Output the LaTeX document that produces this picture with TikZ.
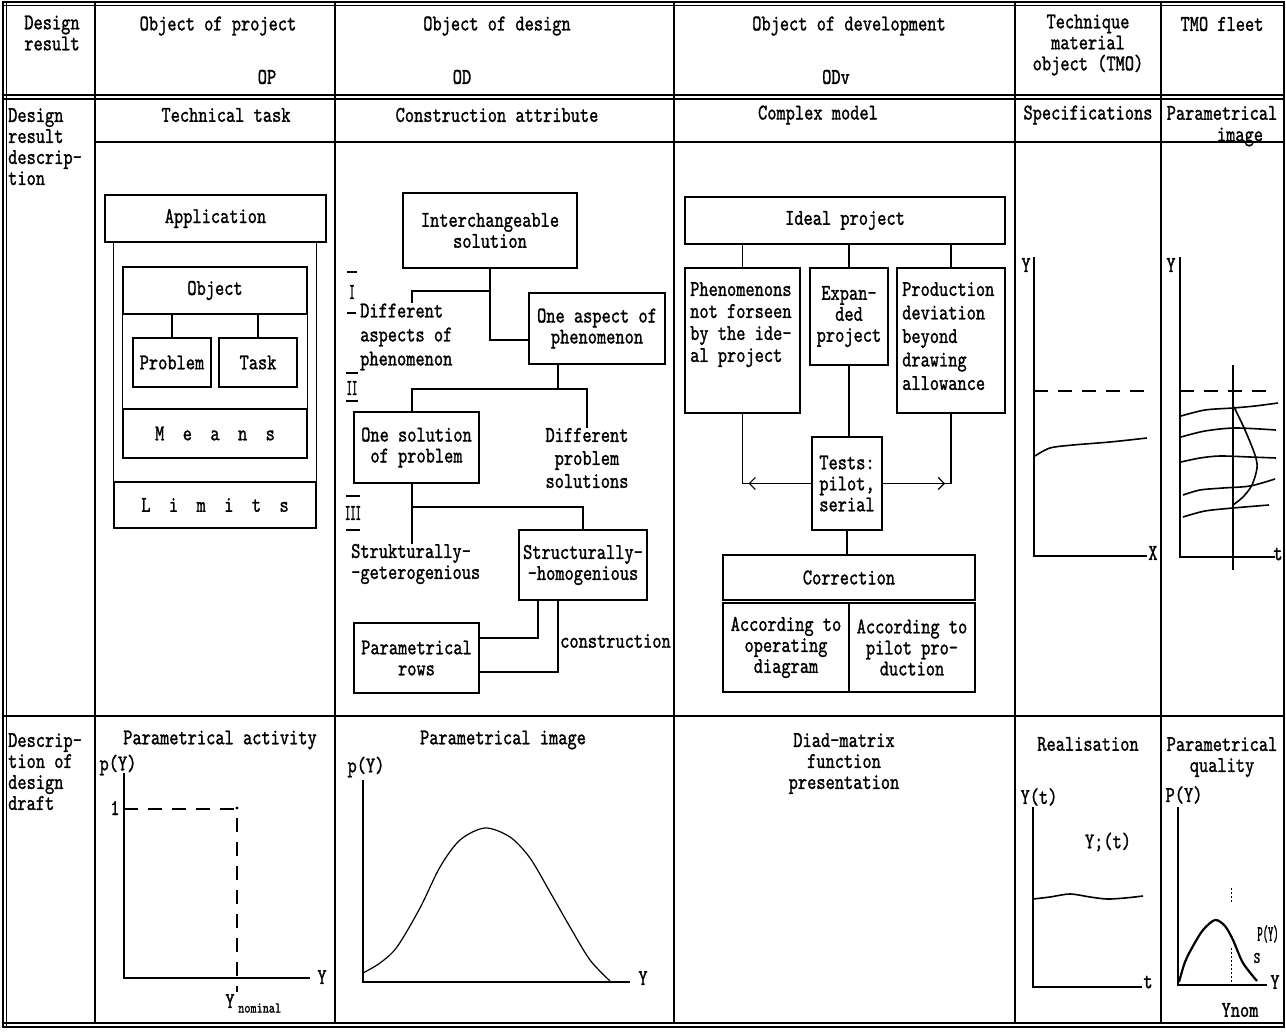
\documentclass[tikz,border=0pt]{standalone}
\usepackage{fontspec}
\newfontfamily\dm{lmmono10-regular}[Extension=.otf,FakeStretch=0.78,FakeBold=1.2]
\newfontfamily\dmn{lmmono10-regular}[Extension=.otf,FakeStretch=0.45,FakeBold=1.2]
\usetikzlibrary{arrows.meta}
\begin{document}
\begin{tikzpicture}[x=1pt,y=-1pt,
  ln/.style={line width=1.2pt},
  t/.style={font=\dm\fontsize{22.5}{21}\selectfont, inner sep=0pt, align=center},
  tl/.style={t, align=left},
  bx/.style={draw, line width=1.2pt, inner sep=0pt, t},
  dsh/.style={line width=1.2pt, dash pattern=on 14pt off 10pt},
  barb/.style={-{Straight Barb[length=6pt,width=12pt]}, shorten >=6pt}]
\useasboundingbox (0,0) rectangle (1286,1033);
\fill[white] (0,0) rectangle (1286,1033);
% ---------------- grid ----------------
\draw[ln] (3,2) rectangle (1284,1027);
\draw[ln] (6.5,2) -- (6.5,1027);
\draw[ln] (3,5.5) -- (1284,5.5);
\draw[ln] (3,1023) -- (1284,1023);
\foreach \x in {95,335,674,1015,1161} \draw[ln] (\x,2) -- (\x,1023);
\draw[ln] (3,95) -- (1284,95);
\draw[ln] (3,99) -- (1284,99);
\draw[ln] (95,142) -- (1284,142);
\draw[ln] (3,716) -- (1284,716);
% ---------------- header ----------------
\node[t] (h0) at (52,33) {Design\\result};
\node[t] (h1) at (218,26) {Object of project};
\node[t] (h1b) at (267,77) {OP};
\node[t] (h2) at (497,26) {Object of design};
\node[t] (h2b) at (462,77) {OD};
\node[t] (h3) at (849,26) {Object of development};
\node[t] (h3b) at (836,77) {ODv};
\node[t] (h4) at (1088,45) {Technique\\material\\object (TMO)};
\node[t] (h5) at (1222,24) {TMO fleet};
% ---------------- row 2 headings ----------------
\node[tl, anchor=north west] (r0) at (8,108) {Design\\result\\descrip-\\tion};
\node[t] (r1) at (226,115) {Technical task};
\node[t] (r2) at (497,115) {Construction attribute};
\node[t] (r3) at (818,115) {Complex model};
\node[t] (r4) at (1088,115) {Specifications};
\node[t] (r5) at (1222,113) {Parametrical};
\node[t] (r5b) at (1240,137) {image};
% ---------------- OP column ----------------
\node[bx, minimum width=221pt, minimum height=47pt] (app) at (215.5,218.5) {Application};
\node[bx, minimum width=202pt, minimum height=46pt] (lim) at (215,505) {L\ \ i\ \ m\ \ i\ \ t\ \ s};
\draw[ln] (app.south -| lim.west) -- (lim.north west);
\draw[ln] (app.south -| lim.east) -- (lim.north east);
\node[bx, minimum width=184pt, minimum height=47pt] (obj) at (215,290.5) {Object};
\node[bx, minimum width=184pt, minimum height=49pt] (means) at (215,433.5) {M\ \ e\ \ a\ \ n\ \ s};
\draw[ln] (obj.south west) -- (means.north west);
\draw[ln] (obj.south east) -- (means.north east);
\node[bx, minimum width=78pt, minimum height=49pt] (prob) at (172,362.5) {Problem};
\node[bx, minimum width=78pt, minimum height=49pt] (task) at (258,362.5) {Task};
\draw[ln] (obj.south -| prob.north) -- (prob.north);
\draw[ln] (obj.south -| task.north) -- (task.north);
% ---------------- OD column ----------------
\node[bx, minimum width=174pt, minimum height=75pt] (inter) at (490,230.5) {Interchangeable\\solution};
\node[bx, minimum width=136pt, minimum height=71pt] (asp) at (597,328.5) {One aspect of\\phenomenon};
\coordinate (ja) at (490,340);
\draw[ln] (inter.south) -- (inter.south |- ja) -- (asp.west |- ja);
\node[tl, anchor=west, font=\dm\fontsize{22.5}{24}\selectfont] (dasp) at (360,337) {Different\\aspects of\\phenomenon};
\coordinate (jb) at (412,291);
\draw[ln] (inter.south |- jb) -- (jb) -- (jb |- dasp.north);
\node[font=\dmn\fontsize{22.5}{21}\selectfont, inner sep=0pt] (n1) at (352,292) {I};
\draw[ln] (347,272) -- (357,272);
\draw[ln] (347,313) -- (356,313);
\node[font=\dmn\fontsize{22.5}{21}\selectfont, inner sep=0pt] (n2) at (352,388) {II};
\draw[ln] (346,373) -- (358,373);
\draw[ln] (346,401) -- (358,401);
\node[font=\dmn\fontsize{22.5}{21}\selectfont, inner sep=0pt] (n3) at (353,513) {III};
\draw[ln] (346,496) -- (360,496);
\draw[ln] (346,530) -- (360,530);
\coordinate (jc) at (558,389);
\node[bx, minimum width=125pt, minimum height=71pt] (sol) at (416.5,447.5) {One solution\\of problem};
\node[t, font=\dm\fontsize{22.5}{23}\selectfont] (dsol) at (587,458) {Different\\problem\\solutions};
\draw[ln] (asp.south -| jc) -- (jc);
\draw[ln] (sol.north -| jb) |- (dsol.north |- jc) -- (dsol.north);
\coordinate (jd) at (412,507);
\node[tl, anchor=west] (strk) at (351,564) {Strukturally-\\-geterogenious};
\node[bx, minimum width=128pt, minimum height=70pt] (shom) at (583,565) {Structurally-\\-homogenious};
\draw[ln] (sol.south -| jd) -- (jd |- strk.north);
\draw[ln] (jd) -- (shom.north |- jd) -- (shom.north);
\node[bx, minimum width=125pt, minimum height=70pt] (par) at (416.5,658) {Parametrical\\rows};
\coordinate (je) at (538,638);
\coordinate (jf) at (558,672);
\draw[ln] (shom.south -| je) -- (je) -- (par.east |- je);
\draw[ln] (shom.south -| jf) -- (jf) -- (par.east |- jf);
\node[t, anchor=west] (cons) at (560,641) {construction};
% ---------------- ODv column ----------------
\node[bx, minimum width=320pt, minimum height=47pt] (ideal) at (845,220.5) {Ideal project};
\node[bx, minimum width=115pt, minimum height=145pt] (phen) at (742.5,340.5) {};
\node[tl, anchor=north west, font=\dm\fontsize{22.5}{22}\selectfont] (phent) at (690,282) {Phenomenons\\not forseen\\by the ide-\\al project};
\node[bx, minimum width=78pt, minimum height=97pt] (exp) at (849,316.5) {Expan-\\ded\\project};
\node[bx, minimum width=108pt, minimum height=145pt] (prod) at (951,340.5) {};
\node[tl, anchor=north west, font=\dm\fontsize{22.5}{23.5}\selectfont] (prodt) at (902,282) {Production\\deviation\\beyond\\drawing\\allowance};
\draw[ln] (ideal.south -| phen.north) -- (phen.north);
\draw[ln] (ideal.south -| exp.north) -- (exp.north);
\draw[ln] (ideal.south -| prod.north) -- (prod.north);
\node[bx, minimum width=70pt, minimum height=93pt] (tests) at (847,483.5) {Tests:\\pilot,\\serial};
\draw[ln] (exp.south) -- (exp.south |- tests.north);
\coordinate (cl) at (phen.south |- tests.west);
\coordinate (cr) at (prod.south |- tests.east);
\draw[ln] (phen.south) -- (cl) -- (tests.west);
\draw[ln] (prod.south) -- (cr) -- (tests.east);
\draw[ln, barb] (tests.west) -- (cl);
\draw[ln, barb] (tests.east) -- (cr);
\node[bx, minimum width=252pt, minimum height=45pt] (corr) at (849,577.5) {Correction};
\draw[ln] (tests.south) -- (tests.south |- corr.north);
\node[bx, minimum width=126pt, minimum height=89pt] (acc1) at (786,647.5) {According to\\operating\\diagram};
\node[bx, minimum width=126pt, minimum height=89pt] (acc2) at (912,647.5) {According to\\pilot pro-\\duction};
% ---------------- TMO column graph ----------------
\node[t] (ys) at (1026,265) {Y};
\draw[ln] (1034,257) -- (1034,556) -- (1147,556);
\node[t] (xs) at (1153,553) {X};
\draw[dsh] (1034,391) -- (1153,391);
\draw[line width=1.6pt] plot[smooth] coordinates {(1035,456) (1050,448) (1073,445) (1110,442) (1147,438)};
% ---------------- TMO fleet graph ----------------
\node[t] (yf) at (1171,265) {Y};
\draw[ln] (1180,257) -- (1180,557) -- (1275,557);
\node[t] (tf) at (1278,554) {t};
\draw[dsh] (1180,391) -- (1273,391);
\draw[ln] (1233,365) -- (1233,570);
\draw[line width=1.6pt] plot[smooth] coordinates {(1181,416) (1205,410) (1233,408) (1255,406) (1278,403)};
\draw[line width=1.6pt] plot[smooth] coordinates {(1181,437) (1205,431) (1235,428) (1276,430)};
\draw[line width=1.6pt] plot[smooth] coordinates {(1181,462) (1200,458) (1220,456) (1250,457) (1276,458)};
\draw[line width=1.6pt] plot[smooth] coordinates {(1183,495) (1200,490) (1223,488) (1250,486) (1275,479)};
\draw[line width=1.6pt] plot[smooth] coordinates {(1183,517) (1205,511) (1233,508) (1269,505)};
\draw[line width=1.6pt] plot[smooth] coordinates {(1234,407) (1245,430) (1255,455) (1257,468) (1252,485) (1243,497) (1233,505)};
% ---------------- bottom row ----------------
\node[tl, anchor=north west] (d0) at (8,733) {Descrip-\\tion of\\design\\draft};
% OP graph
\node[t] (pa) at (220,740) {Parametrical activity};
\node[t] (pay) at (118,765) {p(Y)};
\draw[ln] (124,773) -- (124,978) -- (310,978);
\node[t] (pax) at (322,977) {Y};
\node[t] (pa1) at (115,808) {1};
\draw[dsh] (124,809) -- (237,809);
\fill (237,808) circle (1.6pt);
\draw[dsh] (237,818) -- (237,992);
\node[t] (pan) at (230,1001) {Y};
\node[font=\dm\fontsize{15}{15}\selectfont, inner sep=0pt, anchor=west] (pann) at (238,1008) {nominal};
% OD graph
\node[t] (pi) at (503,740) {Parametrical image};
\node[t] (piy) at (366,767) {p(Y)};
\draw[ln] (363,780) -- (363,982) -- (630,982);
\node[t] (pix) at (643,978) {Y};
\draw[ln] plot[smooth] coordinates {(363,973) (380,963) (397,947) (420,908) (440,867) (460,840) (485,828) (510,837) (530,858) (550,892) (570,927) (590,960) (610,981)};
% ODv text
\node[t, anchor=north] (dmx) at (844,733) {Diad-matrix\\function\\presentation};
% TMO graph
\node[t] (rl) at (1088,744) {Realisation};
\node[t] (rly) at (1039,797) {Y(t)};
\draw[ln] (1033,807) -- (1033,987) -- (1142,987);
\node[t] (rlt) at (1148,982) {t};
\node[t] (rli) at (1108,842) {Y;(t)};
\draw[line width=1.6pt] plot[smooth] coordinates {(1033,899) (1050,897) (1070,894) (1090,897) (1107,899) (1125,898) (1143,896)};
% fleet graph
\node[t, anchor=north] (pq) at (1222,737) {Parametrical\\quality};
\node[t] (pqy) at (1184,795) {P(Y)};
\draw[ln] (1178,807) -- (1178,985) -- (1267,985);
\node[t] (pqx) at (1275,982) {Y};
\draw[line width=2.2pt] plot[smooth] coordinates {(1179,982) (1185,962) (1193,946) (1203,930) (1215,920) (1225,926) (1233,940) (1243,963) (1257,981)};
\draw[line width=1pt, dash pattern=on 2pt off 2pt] (1231,948) -- (1231,985);
\draw[line width=1pt, dash pattern=on 2pt off 2pt] (1231,888) -- (1231,902);
\node[font=\dmn\fontsize{22.5}{21}\selectfont, inner sep=0pt] (psy) at (1268,934) {P(Y)};
\node[font=\dm\fontsize{16}{16}\selectfont, inner sep=0pt] (pss) at (1257,958) {S};
\node[t] (ynom) at (1240,1010) {Ynom};
\end{tikzpicture}
\end{document}
